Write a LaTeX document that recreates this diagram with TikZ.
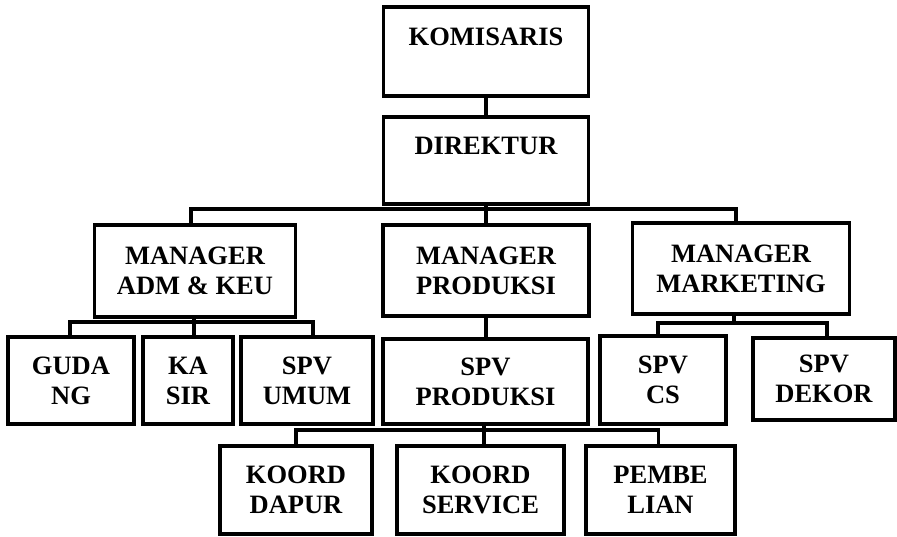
\documentclass[tikz,border=0pt]{standalone}
\usepackage{fontspec}
\setmainfont{Liberation Serif}
\usetikzlibrary{calc}

\begin{document}
\begin{tikzpicture}[
  x=1pt, y=-1pt,
  font=\bfseries\fontsize{26.5}{30}\selectfont,
  box/.style={draw=black, line width=3.2pt, fill=white, align=center,
              inner sep=0pt, minimum height=88pt},
  conn/.style={line width=3.2pt, black},
]
\useasboundingbox (0,0) rectangle (897,536);

%% ---------- connectors (drawn first, boxes sit on top) ----------
\coordinate (dirbus) at (486,209);
\coordinate (admbus) at (194,322);
\coordinate (mktbus) at (734,323);
\coordinate (prodbus) at (484,430);

%% ---------- top ----------
\node[box, minimum width=205pt, minimum height=89pt] (kom) at (486,51.5) {KOMISARIS\\\mbox{}};
\node[box, minimum width=205pt, minimum height=87pt] (dir) at (486,160.5) {DIREKTUR\\\mbox{}};

%% ---------- managers ----------
\node[box, minimum width=201pt, minimum height=92pt] (madm) at (195,271) {MANAGER\\ADM \& KEU};
\node[box, minimum width=206pt, minimum height=91pt] (mprod) at (486,270.5) {MANAGER\\PRODUKSI};
\node[box, minimum width=217pt, minimum height=91pt] (mmkt) at (741,268.5) {MANAGER\\MARKETING};

%% ---------- third row ----------
\node[box, minimum width=126pt, minimum height=87pt] (gudang) at (71,380.5) {GUDA\\NG};
\node[box, minimum width=90pt, minimum height=87pt] (kasir) at (188,380.5) {KA\\SIR};
\node[box, minimum width=132pt, minimum height=87pt] (spvumum) at (307,380.5) {SPV\\UMUM};
\node[box, minimum width=205pt, minimum height=85pt] (spvprod) at (485.5,381.5) {SPV\\PRODUKSI};
\node[box, minimum width=126pt, minimum height=88pt] (spvcs) at (663,380) {SPV\\CS};
\node[box, minimum width=142pt, minimum height=82pt] (spvdekor) at (824,379) {SPV\\DEKOR};

%% ---------- bottom row ----------
\node[box, minimum width=152pt] (kdapur) at (296,490) {KOORD\\DAPUR};
\node[box, minimum width=167pt] (kservice) at (480.5,490) {KOORD\\SERVICE};
\node[box, minimum width=149pt] (pembelian) at (660.5,490) {PEMBE\\LIAN};

%% ---------- lines ----------
\draw[conn] (kom.south) -- (dir.north);
\draw[conn] (dir.south) -- (mprod.north);
\draw[conn] ([xshift=-4pt]madm.north) |- (dirbus) -| ([xshift=-5pt]mmkt.north);

\draw[conn] (madm.south -| admbus) -- (kasir.north -| admbus);
\draw[conn] ([xshift=-1pt]gudang.north) |- (admbus) -| ([xshift=6pt]spvumum.north);

\draw[conn] (mprod.south) -- (spvprod.north -| mprod.south);
\draw[conn] (spvprod.south -| prodbus) -- (kservice.north -| prodbus);
\draw[conn] (kdapur.north) |- (prodbus) -| ([xshift=-2pt]pembelian.north);

\draw[conn] (mmkt.south -| mktbus) -- (mktbus);
\draw[conn] ([xshift=-5pt]spvcs.north) |- (mktbus) -| ([xshift=3pt]spvdekor.north);

\end{tikzpicture}
\end{document}
